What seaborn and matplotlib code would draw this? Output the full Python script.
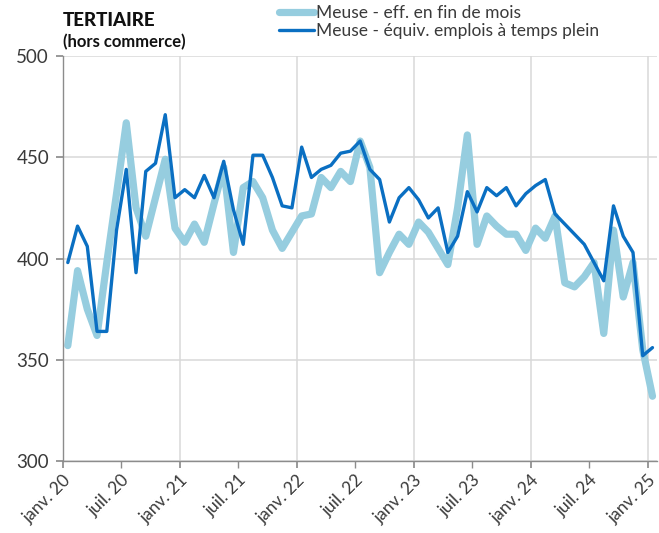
import numpy as np
import pandas as pd
import matplotlib
matplotlib.use("Agg")
import matplotlib.pyplot as plt
from matplotlib.ticker import FixedLocator, FixedFormatter
from matplotlib.lines import Line2D
import seaborn as sns

# ── data (monthly, janv. 2020 -> janv. 2025) ─────────────────────
months = pd.date_range("2020-01-01", "2025-01-01", freq="MS")

eff_fin_mois = [357, 394, 375, 362, 398, 432, 467, 425, 411, 430,
                449, 415, 408, 417, 408, 427, 445, 403, 435, 438,
                430, 414, 405, 413, 421, 422, 440, 435, 443, 438,
                458, 445, 393, 403, 412, 407, 418, 413, 405, 397,
                425, 461, 407, 421, 416, 412, 412, 404, 415, 410,
                421, 388, 386, 391, 398, 363, 414, 381, 398, 355,
                332]

etp = [398, 416, 406, 364, 364, 414, 444, 393, 443, 447,
       471, 430, 434, 430, 441, 430, 448, 424, 407, 451,
       451, 440, 426, 425, 455, 440, 444, 446, 452, 453,
       458, 444, 439, 418, 430, 435, 429, 420, 425, 403,
       411, 433, 423, 435, 431, 435, 426, 432, 436, 439,
       422, 417, 412, 407, 398, 389, 426, 411, 403, 352,
       356]

tick_labels = ["janv. 20", "juil. 20", "janv. 21", "juil. 21", "janv. 22",
               "juil. 22", "janv. 23", "juil. 23", "janv. 24", "juil. 24",
               "janv. 25"]

LABEL_EFF = "Meuse - eff. en fin de mois"
LABEL_ETP = "Meuse - équiv. emplois à temps plein"
C_LIGHT = "#96cddf"
C_DARK = "#0a6fc2"
TXT = "#3a3a3a"
GRID = "#d9d9d9"

df = pd.DataFrame({"idx": np.arange(len(months)),
                   LABEL_EFF: eff_fin_mois,
                   LABEL_ETP: etp})
long = df.melt(id_vars="idx", var_name="serie", value_name="val")

# ── plot ────────────────────────────────────────────────────────
sns.set_theme(style="white")
plt.rcParams["font.family"] = ["Lato", "DejaVu Sans"]

fig = plt.figure(figsize=(6.59, 5.33), dpi=100)
ax = fig.add_axes([0.0955, 0.135, 0.902, 0.76])

sns.lineplot(data=long, x="idx", y="val", hue="serie", size="serie",
             sizes={LABEL_EFF: 5.2, LABEL_ETP: 2.4},
             palette={LABEL_EFF: C_LIGHT, LABEL_ETP: C_DARK},
             ax=ax, legend=False)
for ln in ax.get_lines():
    ln.set_solid_joinstyle("round")
    ln.set_solid_capstyle("round")

ax.set_xlim(-0.5, len(months) - 0.5)
ax.set_ylim(300, 500)
ax.set_yticks([300, 350, 400, 450, 500])
ax.set_xlabel("")
ax.set_ylabel("")

# janv. ticks = major (with gridlines), juil. ticks = minor
pos = np.arange(len(tick_labels)) * 6 - 0.5
ax.xaxis.set_major_locator(FixedLocator(pos[::2]))
ax.xaxis.set_major_formatter(FixedFormatter(tick_labels[::2]))
ax.xaxis.set_minor_locator(FixedLocator(pos[1::2]))
ax.xaxis.set_minor_formatter(FixedFormatter(tick_labels[1::2]))

ax.grid(True, which="major", color=GRID, linewidth=1.1)
ax.set_axisbelow(True)
for s in ["top", "right"]:
    ax.spines[s].set_visible(False)
for s in ["left", "bottom"]:
    ax.spines[s].set_color("#8c8c8c")
    ax.spines[s].set_linewidth(1.0)

ax.tick_params(axis="y", which="major", length=5, color="#8c8c8c",
               labelsize=13.5, labelcolor=TXT, pad=5, left=True)
ax.tick_params(axis="x", which="both", length=5, color="#8c8c8c",
               labelsize=12.5, labelcolor=TXT, bottom=True, pad=3)
for lab in ax.get_xticklabels(which="both"):
    lab.set_rotation(45)
    lab.set_ha("right")
    lab.set_rotation_mode("anchor")

# titles
fig.text(0.095, 0.962, "TERTIAIRE", fontsize=13.5, fontweight="black",
         color="#111111", va="center")
fig.text(0.095, 0.921, "(hors commerce)", fontsize=12, fontweight="bold",
         color="#111111", va="center")

# legend
handles = [Line2D([], [], color=C_LIGHT, lw=5.2, solid_capstyle="round"),
           Line2D([], [], color=C_DARK, lw=2.4, solid_capstyle="round")]
fig.legend(handles, [LABEL_EFF, LABEL_ETP], loc="upper left",
           bbox_to_anchor=(0.408, 1.01), frameon=False, fontsize=12.5,
           labelcolor=TXT, handlelength=2.0, handletextpad=0.1,
           labelspacing=0.1, borderaxespad=0.2)

fig.savefig("out.png", dpi=100)
